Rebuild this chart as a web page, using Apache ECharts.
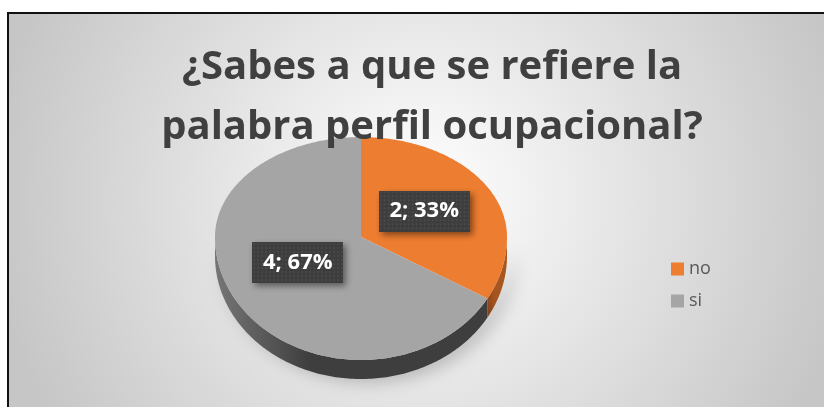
<!DOCTYPE html>
<html>
<head>
<meta charset="utf-8">
<script src="https://cdn.jsdelivr.net/npm/echarts@6/dist/echarts.min.js"></script>
<style>
  html, body { margin: 0; padding: 0; background: #fff; overflow: hidden; }
  #chart { width: 824px; height: 407px; }
</style>
</head>
<body>
<div id="chart"></div>
<script>
var titleText = "¿Sabes a que se refiere la\npalabra perfil ocupacional?";
var categories = ["no", "si"];
var values = [2, 4];
var colors = ["#ED7D31", "#A5A5A5"];
var sideColors = [["#8f4a1b", "#a8561f"], ["#767676", "#3e3e3e"]];

// geometria del pastel "3D"
var cx = 361, cy = 237, rx = 146, ryBack = 100, ryFront = 123, depth = 19;

var total = values.reduce(function (a, b) { return a + b; }, 0);

function pt(deg, dy) {
  var t = deg * Math.PI / 180;
  var c = Math.cos(t);
  var ry = c > 0 ? ryBack : ryFront;
  return [cx + rx * Math.sin(t), cy - ry * c + (dy || 0)];
}

function arc(a1, a2, dy) {
  var pts = [];
  var n = Math.max(2, Math.ceil(Math.abs(a2 - a1)));
  for (var i = 0; i <= n; i++) pts.push(pt(a1 + (a2 - a1) * i / n, dy));
  return pts;
}

// patron punteado para las etiquetas
function dotted(w, h) {
  var c = document.createElement("canvas");
  c.width = w; c.height = h;
  var g = c.getContext("2d");
  g.fillStyle = "#3d3d3d";
  g.fillRect(0, 0, w, h);
  g.fillStyle = "#555555";
  for (var y = 1; y < h; y += 4) {
    for (var x = 1; x < w; x += 4) g.fillRect(x, y, 1.5, 1.5);
  }
  return c;
}
var labelBg = dotted(91, 41);

function makeSeries(idx) {
  var start = 0;
  for (var i = 0; i < idx; i++) start += values[i] / total * 360;
  var end = start + values[idx] / total * 360;
  return {
    type: "custom",
    name: categories[idx],
    coordinateSystem: "none",
    itemStyle: { color: colors[idx] },
    data: [values[idx]],
    renderItem: function (params, api) {
      var children = [];
      var s1 = Math.max(start, 90), s2 = Math.min(end, 270);
      if (s2 > s1) {
        var top = arc(s1, s2, 0);
        var bot = arc(s1, s2, depth).reverse();
        children.push({
          type: "polygon",
          shape: { points: top.concat(bot) },
          style: {
            fill: new echarts.graphic.LinearGradient(0, 0, 1, 0, [
              { offset: 0, color: sideColors[idx][0] },
              { offset: 0.35, color: sideColors[idx][1] },
              { offset: 1, color: sideColors[idx][1] }
            ]),
            shadowBlur: 18,
            shadowColor: "rgba(0,0,0,0.25)",
            shadowOffsetX: 8,
            shadowOffsetY: 2
          }
        });
      }
      children.push({
        type: "polygon",
        shape: { points: [[cx, cy]].concat(arc(start, end, 0)) },
        style: { fill: colors[idx] }
      });
      var mid = (start + end) / 2 * Math.PI / 180;
      var c = Math.cos(mid);
      var pct = Math.round(values[idx] / total * 100);
      children.push({
        type: "text",
        x: cx + 0.5 * rx * Math.sin(mid),
        y: cy - (c > 0 ? 0.52 * ryBack : 0.42 * ryFront) * c,
        z2: 10,
        style: {
          text: values[idx] + "; " + pct + "%",
          fill: "#ffffff",
          font: "bold 22px 'Open Sans'",
          align: "center",
          verticalAlign: "middle",
          width: 91,
          height: 41,
          padding: [0, 0, 0, 0],
          backgroundColor: { image: labelBg },
          shadowBlur: 6,
          shadowColor: "rgba(0,0,0,0.45)",
          shadowOffsetX: 3,
          shadowOffsetY: 3
        }
      });
      return { type: "group", children: children };
    }
  };
}

var chart = echarts.init(document.getElementById("chart"));
chart.setOption({
  animation: false,
  graphic: [{
    type: "rect",
    z: -10,
    shape: { x: 8, y: 13, width: 830, height: 410 },
    style: {
      fill: new echarts.graphic.RadialGradient(0.5, 0.45, 1.05, [
        { offset: 0, color: "#ffffff" },
        { offset: 1, color: "#c6c6c6" }
      ]),
      stroke: "#111111",
      lineWidth: 2
    }
  }],
  title: {
    text: titleText,
    left: 427,
    top: 33,
    textAlign: "center",
    textStyle: {
      fontFamily: "Open Sans",
      fontWeight: "bold",
      fontSize: 40,
      lineHeight: 60,
      color: "#404040"
    }
  },
  legend: {
    orient: "vertical",
    left: 666,
    top: 255,
    icon: "rect",
    itemWidth: 13,
    itemHeight: 13,
    itemGap: 14,
    data: categories,
    textStyle: { fontFamily: "Open Sans", fontSize: 18, color: "#595959" }
  },
  series: categories.map(function (c, i) { return makeSeries(i); })
});
</script>
</body>
</html>
